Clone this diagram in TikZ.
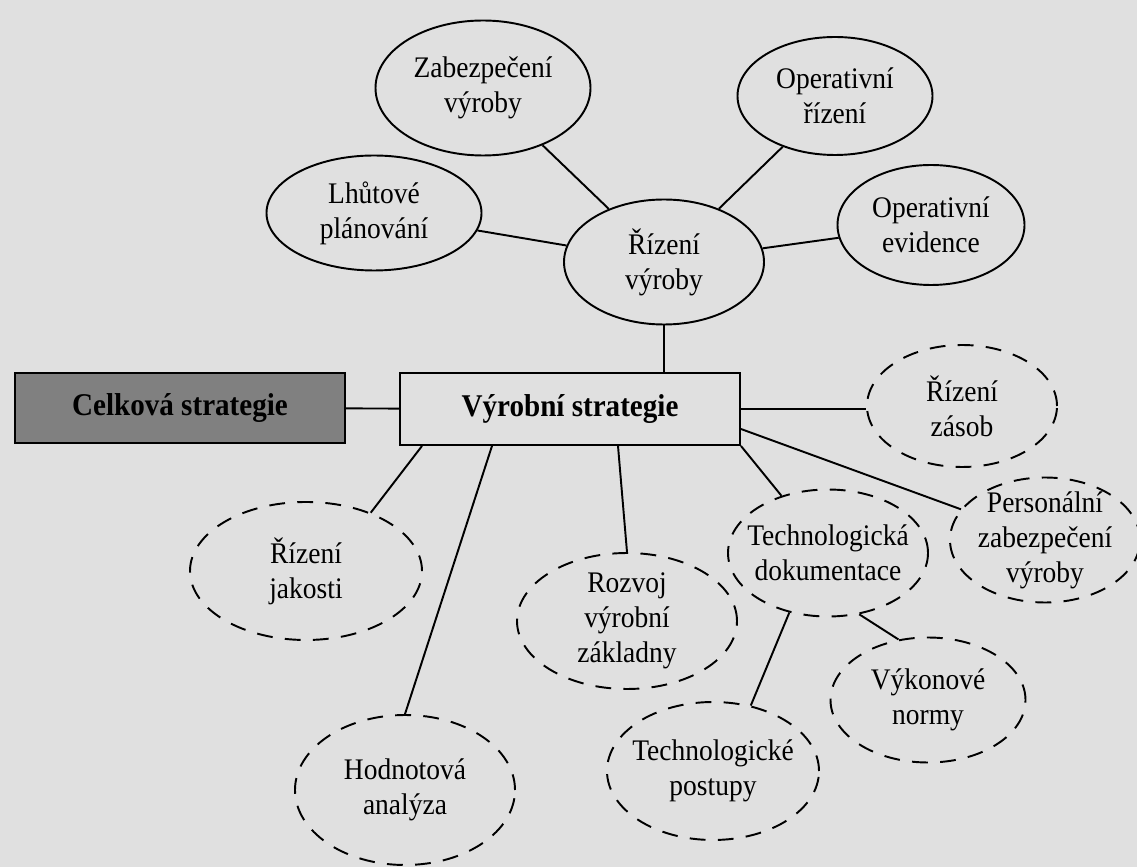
\documentclass[tikz,border=0pt]{standalone}
\usepackage{fontspec}
\setmainfont{Liberation Serif}[FakeStretch=0.92]
\usetikzlibrary{shapes.geometric}

\begin{document}
\begin{tikzpicture}[
    box/.style={draw, line width=1.1pt, minimum width=6.8cm, minimum height=1.44cm,
                font=\fontsize{18}{21}\selectfont\bfseries, align=center},
    oval/.style={draw, ellipse, line width=1.1pt, inner sep=-6pt,
                 font=\fontsize{17}{20}\selectfont, align=center},
    dashoval/.style={oval, dash pattern=on 9pt off 7pt},
    link/.style={line width=1.1pt}
  ]
  \fill[black!12] (0,0) rectangle (22.74,17.34);
  \useasboundingbox (0,0) rectangle (22.74,17.34);

  \node[box, fill=black!50, minimum width=6.6cm, minimum height=1.4cm] (cs) at (3.6, 9.18)
    {Celková strategie};
  \node[box] (vs) at (11.4, 9.16) {Výrobní strategie};

  \node[oval, minimum width=4cm, minimum height=2.5cm] (rv) at (13.28, 12.1)
    {Řízení\\výroby};
  \node[oval, minimum width=4.3cm, minimum height=2.7cm] (zv) at (9.66, 15.58)
    {Zabezpečení\\výroby};
  \node[oval, minimum width=3.9cm, minimum height=2.36cm] (or) at (16.7, 15.42)
    {Operativní\\řízení};
  \node[oval, minimum width=4.3cm, minimum height=2.3cm] (lp) at (7.48, 13.08)
    {Lhůtové\\plánování};
  \node[oval, minimum width=3.74cm, minimum height=2.4cm] (oe) at (18.62, 12.84)
    {Operativní\\evidence};

  \node[dashoval, minimum width=3.8cm, minimum height=2.44cm] (rz) at (19.24, 9.22)
    {Řízení\\zásob};
  \node[dashoval, minimum width=3.8cm, minimum height=2.5cm] (pz) at (20.9, 6.54)
    {Personální\\zabezpečení\\výroby};
  \node[dashoval, minimum width=4cm, minimum height=2.54cm] (td) at (16.56, 6.28)
    {Technologická\\dokumentace};
  \node[dashoval, minimum width=4.64cm, minimum height=2.76cm] (rj) at (6.12, 5.92)
    {Řízení\\jakosti};
  \node[dashoval, minimum width=4.4cm, minimum height=2.72cm] (rvz) at (12.54, 4.92)
    {Rozvoj\\výrobní\\základny};
  \node[dashoval, minimum width=4.4cm, minimum height=3cm] (ha) at (8.1, 1.54)
    {Hodnotová\\analýza};
  \node[dashoval, minimum width=4.24cm, minimum height=2.76cm] (tp) at (14.26, 1.92)
    {Technologické\\postupy};
  \node[dashoval, minimum width=3.9cm, minimum height=2.5cm] (vn) at (18.56, 3.34)
    {Výkonové\\normy};

  \draw[link] (cs) -- (vs);
  \draw[link] (rv.south) -- (rv.south |- vs.north);
  \draw[link] (rv) -- (zv);
  \draw[link] (rv) -- (or);
  \draw[link] (rv) -- (lp);
  \draw[link] (rv) -- (oe);

  \draw[link] (vs.east) -- (vs.east -| rz.west);
  \draw[link] ([yshift=-0.4cm]vs.east) -- (pz);
  \draw[link] (vs.south east) -- (td);
  \draw[link] ([xshift=-2.96cm]vs.south) -- (rj.42);
  \draw[link] ([xshift=-1.56cm]vs.south) -- (ha.north);
  \draw[link] ([xshift=0.96cm]vs.south) -- (rvz.north);
  \draw[link] (td.237) -- (tp.60);
  \draw[link] (td.297) -- (vn.116);
\end{tikzpicture}
\end{document}
